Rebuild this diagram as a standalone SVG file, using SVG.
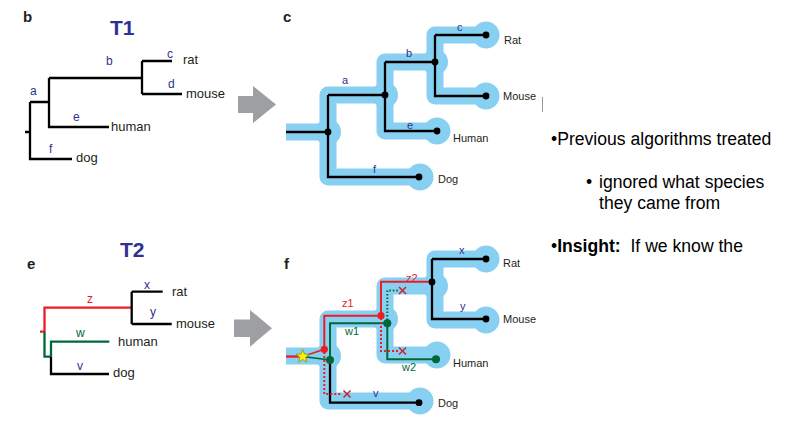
<svg xmlns="http://www.w3.org/2000/svg" width="788" height="436" viewBox="0 0 788 436">
<style>
text{font-family:"Liberation Sans",Arial,sans-serif}
.pl{font-size:15px;font-weight:bold;fill:#231f20}
.tt{font-size:21px;font-weight:bold;fill:#2e3192}
.sp{font-size:13px;fill:#231f20}
.sp2{font-size:11px;fill:#231f20}
.lb{font-size:12px;fill:#2e3192}
.lb2{font-size:11px;fill:#2e3192}
.red{fill:#ed1c24}
.grn{fill:#006838}
.blk{fill:none;stroke:#000;stroke-width:2.3}
.band{fill:none;stroke:#88d0f2;stroke-width:17;stroke-linejoin:round}
.bandc{fill:#88d0f2}
.rl{fill:none;stroke:#ed1c24;stroke-width:2}
.gl{fill:none;stroke:#006838;stroke-width:2}
.rd{fill:none;stroke:#ed1c24;stroke-width:2;stroke-dasharray:2 2}
.gd{fill:none;stroke:#006838;stroke-width:2;stroke-dasharray:1.5 2}
.xm{fill:none;stroke:#c1272d;stroke-width:1.5}
.arw{fill:#9d9fa2}
.body{font-size:17.6px;fill:#000}
</style>
<defs>
<g id="bandShape">
<path class="band" d="M286,132 H328 V95 H385 V62 H435 V35 H486 M435,62 V96 H486 M385,95 V131 H437 M328,132 V177 H419"/>
<circle class="bandc" cx="328" cy="132" r="13"/>
<circle class="bandc" cx="385" cy="95" r="13"/>
<circle class="bandc" cx="435" cy="62" r="13"/>
<circle class="bandc" cx="486" cy="35" r="13.5"/>
<circle class="bandc" cx="486" cy="96" r="13.5"/>
<circle class="bandc" cx="437" cy="131" r="13.5"/>
<circle class="bandc" cx="420" cy="177" r="13.5"/>
</g>
</defs>

<!-- Panel b -->
<g id="panel-b">
<text class="pl" x="23" y="22">b</text>
<text class="tt" x="110" y="35">T1</text>
<path class="blk" d="M25,132 H30 M30,102 V159 H72 M30,102 H49 M49,78 V127 H109 M49,78 H142 M142,61 V94 M142,61 H172 M142,94 H182"/>
<text class="lb" x="30" y="95">a</text>
<text class="lb" x="106" y="65">b</text>
<text class="lb" x="167" y="58">c</text>
<text class="lb" x="168" y="88">d</text>
<text class="lb" x="73" y="121">e</text>
<text class="lb" x="49" y="153">f</text>
<text class="sp" x="183" y="64">rat</text>
<text class="sp" x="186" y="98">mouse</text>
<text class="sp" x="111" y="131">human</text>
<text class="sp" x="76" y="162">dog</text>
</g>

<g id="arrow-1"><path class="arw" d="M238,96 H253 V86 L276,104.5 L253,123 V113 H238 Z"/></g>

<!-- Panel c -->
<g id="panel-c">
<text class="pl" x="283" y="22">c</text>
<use href="#bandShape"/>
<path class="blk" d="M286,132 H328 M328,95 V177 H419 M328,95 H385 M385,62 V131 H437 M385,62 H435 M435,35 V96 H486 M435,35 H486"/>
<g fill="#000">
<circle cx="328" cy="132" r="3.4"/><circle cx="385" cy="95" r="3.4"/><circle cx="435" cy="62" r="3.4"/>
<circle cx="486" cy="35" r="3.4"/><circle cx="486" cy="96" r="3.4"/><circle cx="437" cy="131" r="3.4"/><circle cx="419" cy="177" r="3.4"/>
</g>
<text class="lb2" x="342" y="84">a</text>
<text class="lb2" x="406" y="57">b</text>
<text class="lb2" x="457" y="31">c</text>
<text class="lb2" x="407" y="129">e</text>
<text class="lb2" x="373" y="173">f</text>
<text class="sp2" x="504" y="44">Rat</text>
<text class="sp2" x="503" y="100">Mouse</text>
<text class="sp2" x="453" y="142">Human</text>
<text class="sp2" x="438" y="183">Dog</text>
<line x1="542.5" y1="97" x2="542.5" y2="112" stroke="#999" stroke-width="1"/>
</g>

<!-- Panel e -->
<g id="panel-e">
<text class="pl" x="27" y="269">e</text>
<text class="tt" x="120" y="257">T2</text>
<path class="rl" style="stroke-width:2.3" d="M40,331.7 H44.5 M44.5,332 V307.7 H131.7"/>
<path class="gl" style="stroke-width:2.3" d="M44.5,331.7 V356.7 H51 M51,356.7 V341.7 H109.3"/>
<path class="blk" d="M51,356.7 V374 H109 M131.7,291.7 V324 M131.7,291.7 H162.7 M131.7,324 H171.7"/>
<text class="lb red" x="87" y="303">z</text>
<text class="lb" x="144" y="289">x</text>
<text class="lb" x="150" y="316">y</text>
<text class="lb grn" x="76" y="337">w</text>
<text class="lb" x="77" y="370">v</text>
<text class="sp" x="172" y="296">rat</text>
<text class="sp" x="176" y="328">mouse</text>
<text class="sp" x="118" y="346">human</text>
<text class="sp" x="113" y="377">dog</text>
</g>

<g id="arrow-2"><path class="arw" d="M234,319.5 H250 V310 L272,328.3 L250,346.7 V337 H234 Z"/></g>

<!-- Panel f -->
<g id="panel-f">
<text class="pl" x="284" y="269">f</text>
<use href="#bandShape" transform="translate(0,224)"/>
<path class="blk" d="M330,360 V402.7 H419 M432,259 V319 H486 M432,259 H486"/>
<path class="rl" style="stroke-width:2.3" d="M286,356.5 H302"/>
<path class="rl" style="stroke-width:1.5" d="M302.7,356.5 L324.3,349.3"/>
<path class="gl" style="stroke-width:1.5" d="M302.7,356.5 L330,360"/>
<path class="rl" d="M324.3,349.3 V315.7 H381 V281.7 H432"/>
<path class="gl" d="M330,360 V323.3 H387.3 V359.3 H436"/>
<path class="gd" d="M387.3,320 V290.5 H398"/>
<path class="rd" d="M381,318 V351 H398"/>
<path class="rd" d="M324.3,352 V394 H342"/>
<path class="xm" d="M399,287 L406,294 M406,287 L399,294 M399,347.5 L406,354.5 M406,347.5 L399,354.5 M343.5,390.5 L350.5,397.5 M350.5,390.5 L343.5,397.5"/>
<g fill="#000">
<circle cx="432" cy="282" r="3.4"/><circle cx="486" cy="259" r="3.4"/><circle cx="486" cy="319" r="3.4"/><circle cx="419" cy="402.7" r="3.4"/>
</g>
<g fill="#ed1c24"><circle cx="324.3" cy="349.3" r="3.6"/><circle cx="381" cy="315.7" r="3.6"/></g>
<g fill="#006838"><circle cx="330" cy="360" r="4"/><circle cx="387.3" cy="323.3" r="4"/><circle cx="436" cy="359.3" r="4"/></g>
<polygon points="302.7,349.5 304.46,354.07 309.36,354.34 305.55,357.43 306.82,362.16 302.7,359.5 298.58,362.16 299.85,357.43 296.04,354.34 300.94,354.07" fill="#fff200" stroke="#8c8a1e" stroke-width="0.8"/>
<text class="lb2 red" x="342" y="307">z1</text>
<text class="lb2 red" x="406" y="282">z2</text>
<text class="lb2" x="459" y="254">x</text>
<text class="lb2" x="460" y="310">y</text>
<text class="lb2 grn" x="345" y="335">w1</text>
<text class="lb2 grn" x="402" y="371">w2</text>
<text class="lb2" x="373" y="397">v</text>
<text class="sp2" x="503" y="267">Rat</text>
<text class="sp2" x="503" y="323">Mouse</text>
<text class="sp2" x="453" y="367">Human</text>
<text class="sp2" x="438" y="407">Dog</text>
</g>

<!-- Text -->
<g id="notes">
<text class="body" x="551" y="145">•Previous algorithms treated</text>
<text class="body" x="586" y="188">•</text>
<text class="body" x="599" y="188">ignored what species</text>
<text class="body" x="599" y="209">they came from</text>
<text class="body" x="551" y="252" xml:space="preserve">•<tspan font-weight="bold">Insight:</tspan>  If we know the</text>
</g>
</svg>
